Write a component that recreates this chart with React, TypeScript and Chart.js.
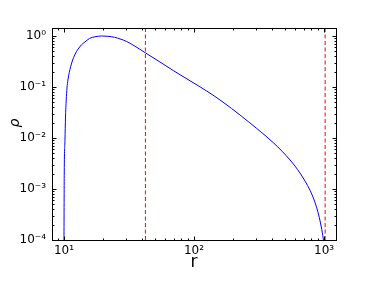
import React, { useEffect, useRef } from "react";
import { Chart, registerables } from "chart.js";

Chart.register(...registerables);

// Curve (r, rho)
const rValues = [
  10.0, 10.05, 10.18, 10.27, 10.41, 10.55, 10.73, 11.26, 12.09, 13.6, 14.5, 15.76, 17.32, 19.4,
  21.8, 24.5, 26.97, 30.36, 33.95, 38.42, 42.51, 54.76, 69.3, 93.2, 125.2, 167.1, 225.9, 303.6,
  407.4, 475.3, 547.7, 598.4, 653.8, 714.4, 780.3, 827.5, 878.7, 918.7, 960.1, 977.2, 989.5,
];
const rhoValues = [
  0.0001, 0.00206, 0.0091, 0.0247, 0.0556, 0.0955, 0.137, 0.251, 0.424, 0.667, 0.763, 0.9, 0.965, 1.0,
  0.986, 0.943, 0.877, 0.78, 0.666, 0.548, 0.464, 0.309, 0.21, 0.1324, 0.0835, 0.0506, 0.0282, 0.0154,
  0.00809, 0.00551, 0.00371, 0.00281, 0.00205, 0.00143, 0.000944, 0.000669, 0.000428, 0.000279, 0.000162, 0.000124, 0.0001,
];

// Vertical dashed markers
const dashedR = [42.3, 1020];

// Axis ranges and ticks
const xRange = [8.09, 1236];
const yRange = [0.0001, 1.435];
const xMajorTicks = [10, 100, 1000];
const yMajorTicks = [0.0001, 0.001, 0.01, 0.1, 1];
const minorMultipliers = [2, 3, 4, 5, 6, 7, 8, 9];

const SUP: Record<string, string> = { "-": "\u207B", "0": "\u2070", "1": "\u00B9", "2": "\u00B2", "3": "\u00B3", "4": "\u2074", "5": "\u2075", "6": "\u2076", "7": "\u2077", "8": "\u2078", "9": "\u2079" };
function powLabel(v: number): string {
  const e = Math.round(Math.log10(v));
  return "10" + String(e).split("").map((c) => SUP[c] || c).join("");
}

function minorList(majors: number[], lo: number, hi: number): number[] {
  const out: number[] = [];
  const all = [majors[0] / 10, ...majors];
  all.forEach((m) => minorMultipliers.forEach((k) => {
    const v = m * k;
    if (v > lo && v < hi) out.push(v);
  }));
  return out;
}

const frameTicks = {
  id: "frameTicks",
  afterDraw(chart: any) {
    const { ctx, chartArea: a, scales } = chart;
    const xs = scales.x, ys = scales.y;
    ctx.save();
    ctx.strokeStyle = "#000";
    ctx.lineWidth = 1;
    const L = Math.round(a.left) + 0.5, R = Math.round(a.right) + 0.5;
    const T = Math.round(a.top) + 0.5, B = Math.round(a.bottom) + 0.5;
    ctx.strokeRect(L, T, R - L, B - T);
    const drawX = (v: number, len: number) => {
      const p = Math.round(xs.getPixelForValue(v)) + 0.5;
      if (p < L || p > R) return;
      ctx.beginPath();
      ctx.moveTo(p, B); ctx.lineTo(p, B - len);
      ctx.moveTo(p, T); ctx.lineTo(p, T + len);
      ctx.stroke();
    };
    const drawY = (v: number, len: number) => {
      const p = Math.round(ys.getPixelForValue(v)) + 0.5;
      if (p < T || p > B) return;
      ctx.beginPath();
      ctx.moveTo(L, p); ctx.lineTo(L + len, p);
      ctx.moveTo(R, p); ctx.lineTo(R - len, p);
      ctx.stroke();
    };
    xMajorTicks.forEach((v) => drawX(v, 4));
    minorList(xMajorTicks, xRange[0], xRange[1]).forEach((v) => drawX(v, 2));
    yMajorTicks.forEach((v) => drawY(v, 4));
    minorList(yMajorTicks, yRange[0], yRange[1]).forEach((v) => drawY(v, 2));

    // axis titles
    ctx.fillStyle = "#000";
    ctx.textAlign = "center";
    ctx.textBaseline = "alphabetic";
    ctx.font = '17px "DejaVu Sans"';
    ctx.fillText("r", (a.left + a.right) / 2, 267);
    ctx.translate(15, 123);
    ctx.rotate(-Math.PI / 2);
    ctx.textBaseline = "middle";
    ctx.font = 'italic 14px "DejaVu Sans"';
    ctx.fillText("\u03C1", 0, 0);
    ctx.restore();
  },
};

export default function App() {
  const ref = useRef<HTMLCanvasElement | null>(null);
  useEffect(() => {
    document.body.style.margin = "0";
    if (!ref.current) return;
    const curve = rValues.map((r, i) => ({ x: r, y: rhoValues[i] }));
    const dashSets = dashedR.map((r) => ({
      data: [{ x: r, y: yRange[0] }, { x: r, y: yRange[1] }],
      borderColor: "#ff0000",
      borderWidth: 1,
      borderDash: [4, 2.5],
      pointRadius: 0,
      fill: false,
    }));
    const chart = new Chart(ref.current, {
      type: "line",
      data: {
        datasets: [
          {
            data: curve,
            borderColor: "#0000ff",
            borderWidth: 1,
            pointRadius: 0,
            fill: false,
            cubicInterpolationMode: "monotone",
          } as any,
          ...dashSets,
        ],
      },
      options: {
        animation: false,
        responsive: false,
        events: [],
        layout: { padding: { left: 0, top: 28, right: 37, bottom: 0 } },
        plugins: { legend: { display: false }, tooltip: { enabled: false } },
        scales: {
          x: {
            type: "logarithmic",
            min: xRange[0],
            max: xRange[1],
            grid: { display: false, drawTicks: false },
            border: { display: false },
            afterBuildTicks: (s: any) => { s.ticks = xMajorTicks.map((v) => ({ value: v })); },
            afterFit: (s: any) => { s.height = 41; },
            ticks: {
              autoSkip: false,
              maxRotation: 0,
              padding: 4,
              color: "#000",
              font: { family: "DejaVu Sans", size: 12 },
              callback: (v: any) => powLabel(Number(v)),
            },
          },
          y: {
            type: "logarithmic",
            min: yRange[0],
            max: yRange[1],
            grid: { display: false, drawTicks: false },
            border: { display: false },
            afterBuildTicks: (s: any) => { s.ticks = yMajorTicks.map((v) => ({ value: v })); },
            afterFit: (s: any) => { s.width = 52; },
            ticks: {
              autoSkip: false,
              padding: 6,
              color: "#000",
              font: { family: "DejaVu Sans", size: 12 },
              callback: (v: any) => powLabel(Number(v)),
            },
          },
        },
      },
      plugins: [frameTicks],
    });
    return () => chart.destroy();
  }, []);
  return (
    <div style={{ position: "absolute", left: 0, top: 0, width: 373, height: 281, background: "#fff" }}>
      <canvas ref={ref} width={373} height={281} />
    </div>
  );
}
